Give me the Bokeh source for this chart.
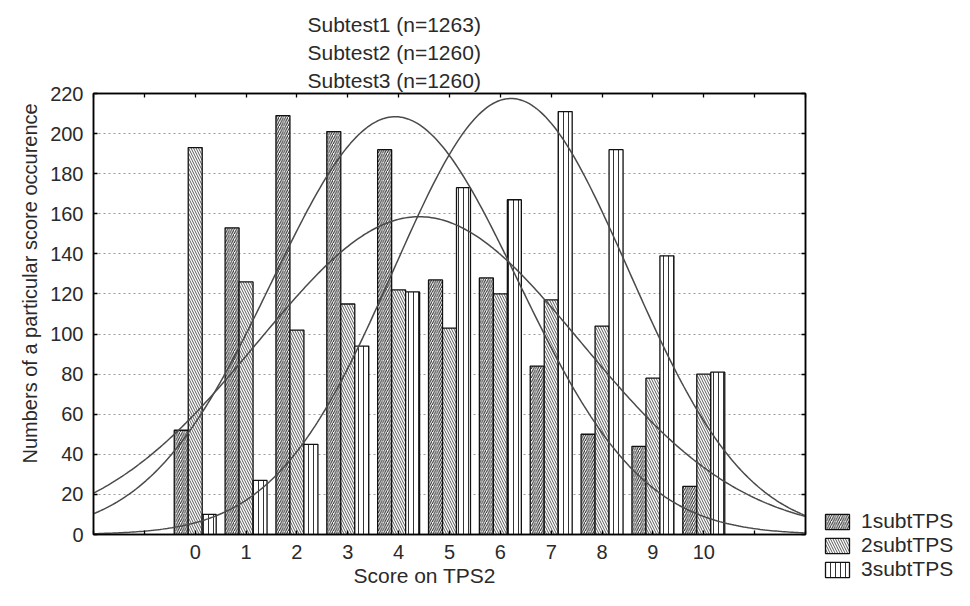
import math
import numpy as np
from bokeh.plotting import figure
from bokeh.layouts import row
from bokeh.models import (ColumnDataSource, Legend, LegendItem, LinearAxis, Title,
                          FixedTicker, Range1d)
from bokeh.transform import dodge
from bokeh.embed import file_html
from bokeh.resources import INLINE

# ---- data ----
scores = [0, 1, 2, 3, 4, 5, 6, 7, 8, 9, 10]
sub1 = [52, 153, 209, 201, 192, 127, 128, 84, 50, 44, 24]
sub2 = [193, 126, 102, 115, 122, 103, 120, 117, 104, 78, 80]
sub3 = [10, 27, 45, 94, 121, 173, 167, 211, 192, 139, 81]
series_names = ["1subtTPS", "2subtTPS", "3subtTPS"]
title_lines = ["Subtest1 (n=1263)", "Subtest2 (n=1260)", "Subtest3 (n=1260)"]
y_ticks = [0, 20, 40, 60, 80, 100, 120, 140, 160, 180, 200, 220]
x_ticks_all = [-2, -1, 0, 1, 2, 3, 4, 5, 6, 7, 8, 9, 10, 11, 12]
x_label = "Score on TPS2"
y_label = "Numbers of a particular score occurence"

FONT = "Liberation Sans"
TXT = "#2a2a2a"
hatches = ["/", "\\", "|"]
hatch_scales = [4.5, 5, 5]
hatch_colors = ["#222222", "#5a5a5a", "#333333"]
series_cols = ["s1", "s2", "s3"]

p = figure(width=821, height=590, x_range=Range1d(-2, 12), y_range=Range1d(0, 220),
           output_backend="svg", toolbar_location=None,
           min_border_left=93, min_border_right=16, min_border_top=93, min_border_bottom=56)
p.background_fill_color = "white"
p.border_fill_color = "white"
p.outline_line_color = "black"
p.outline_line_width = 1.5

src = ColumnDataSource(dict(x=scores, s1=sub1, s2=sub2, s3=sub3))
bw = 0.275
bar_style = dict(fill_color="white", line_color="#111", line_width=1.3, hatch_weight=1.0)
for k, off in enumerate([-bw, 0.0, bw]):
    p.vbar(x=dodge("x", off, range=p.x_range), top=series_cols[k], width=bw, bottom=0,
           source=src, hatch_pattern=hatches[k], hatch_scale=hatch_scales[k],
           hatch_color=hatch_colors[k], **bar_style)

# fitted normal curves (n * pdf, bin width 1), parameters computed from the bar data
xs = np.linspace(-2, 12, 300)
for vals in (sub1, sub2, sub3):
    v = np.array(vals, dtype=float)
    s = np.array(scores, dtype=float)
    n = v.sum()
    mu = (v * s).sum() / n
    sd = math.sqrt((v * (s - mu) ** 2).sum() / n)
    ys = n / (sd * math.sqrt(2 * math.pi)) * np.exp(-0.5 * ((xs - mu) / sd) ** 2)
    p.line(xs, ys, line_color="#4a4a4a", line_width=1.5)

# axes
p.xaxis.ticker = FixedTicker(ticks=x_ticks_all)
p.xaxis.major_label_overrides = {t: (str(t) if t in scores else "") for t in x_ticks_all}
p.yaxis.ticker = FixedTicker(ticks=y_ticks)
for ax in (p.xaxis[0], p.yaxis[0]):
    ax.major_tick_in = 4
    ax.major_tick_out = 0
    ax.minor_tick_line_color = None
    ax.axis_line_width = 1.5
    ax.major_tick_line_width = 1.3
    ax.major_label_text_font = FONT
    ax.major_label_text_font_size = "20px"
    ax.major_label_text_color = TXT
p.xaxis.major_label_standoff = 10
p.yaxis.major_label_standoff = 10

top_ax = LinearAxis(ticker=FixedTicker(ticks=x_ticks_all), major_label_text_font_size="0px",
                    major_tick_in=4, major_tick_out=0, minor_tick_line_color=None,
                    axis_line_width=1.5, major_tick_line_width=1.3, major_label_standoff=0)
right_ax = LinearAxis(ticker=FixedTicker(ticks=y_ticks), major_label_text_font_size="0px",
                      major_tick_in=4, major_tick_out=0, minor_tick_line_color=None,
                      axis_line_width=1.5, major_tick_line_width=1.3, major_label_standoff=0)
p.add_layout(top_ax, "above")
p.add_layout(right_ax, "right")

p.xgrid.visible = False
p.ygrid.ticker = FixedTicker(ticks=y_ticks[1:-1])
p.ygrid.grid_line_color = "#9a9a9a"
p.ygrid.grid_line_dash = "2 3"
p.ygrid.grid_line_width = 1.2

# axis labels as side titles (offset along the side)
p.add_layout(Title(text=x_label, align="left", offset=260, text_font=FONT,
                   text_font_size="21px", text_font_style="normal", text_color=TXT,
                   standoff=0), "below")
p.add_layout(Title(text=y_label, align="left", offset=71, text_font=FONT,
                   text_font_size="20px", text_font_style="normal", text_color=TXT,
                   standoff=14), "left")

# title lines (closest to the plot added first)
for t in reversed(title_lines):
    p.add_layout(Title(text=t, align="left", offset=214, text_font=FONT,
                       text_font_size="21px", text_font_style="normal", text_color=TXT,
                       standoff=3), "above")

# legend panel to the right of the chart; key renderers share the style, hidden themselves
lg = figure(width=133, height=590, x_range=Range1d(0, 1), y_range=Range1d(0, 1),
            output_backend="svg", toolbar_location=None,
            x_axis_location=None, y_axis_location=None,
            min_border_left=0, min_border_right=0, min_border_top=0, min_border_bottom=0)
lg.frame_align = False
lg.outline_line_color = None
lg.grid.visible = False
lg.background_fill_color = "white"
lg.border_fill_color = "white"
key_renderers = []
for k in range(3):
    kr = lg.vbar(x="x", top=series_cols[k], width=bw, bottom=0, source=src,
                 hatch_pattern=hatches[k], hatch_scale=hatch_scales[k],
                 hatch_color=hatch_colors[k], **bar_style)
    kr.visible = False
    key_renderers.append(kr)

legend = Legend(items=[LegendItem(label=series_names[k], renderers=[key_renderers[k]])
                       for k in range(3)],
                location=(1, 9), orientation="vertical")
legend.border_line_color = None
legend.background_fill_alpha = 0
legend.glyph_width = 30
legend.glyph_height = 19
legend.label_height = 19
legend.spacing = 0
legend.padding = 0
legend.margin = 0
legend.label_standoff = 9
legend.label_text_font = FONT
legend.label_text_font_size = "21px"
legend.label_text_color = TXT
lg.add_layout(legend)

layout = row(p, lg)
open("out.html", "w").write(file_html(layout, INLINE))
